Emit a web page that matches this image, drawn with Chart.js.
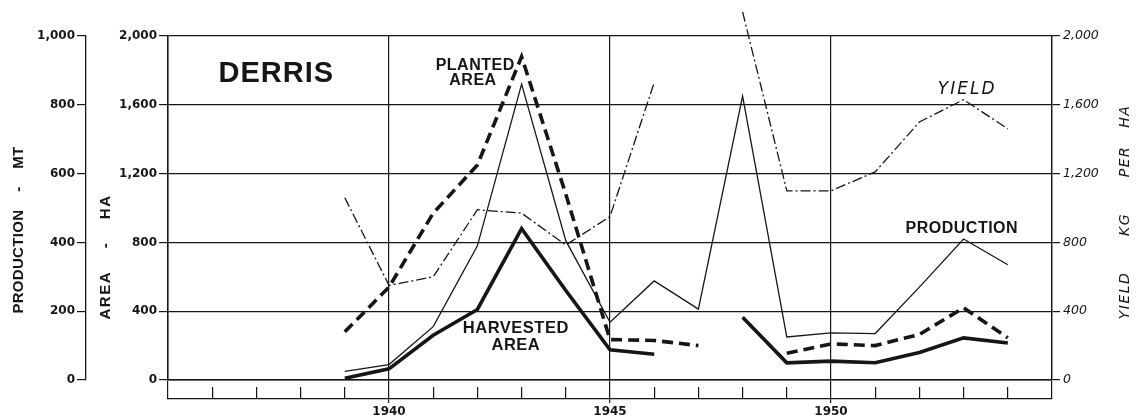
<!DOCTYPE html>
<html>
<head>
<meta charset="utf-8">
<script src="https://cdn.jsdelivr.net/npm/chart.js@4.4.1/dist/chart.umd.min.js"></script>
<style>
  html, body { margin: 0; padding: 0; background: #ffffff; }
  #wrap { width: 1138px; height: 419px; }
</style>
</head>
<body>
<div id="wrap"><canvas id="c" width="1138" height="419"></canvas></div>
<script>
// ---- data ----
const years = [1939, 1940, 1941, 1942, 1943, 1944, 1945, 1946, 1947, 1948, 1949, 1950, 1951, 1952, 1953, 1954];
// Production, metric tons (left outer axis)
const production = [25, 45, 155, 390, 860, 405, 168, 288, 206, 825, 125, 137, 135, 270, 410, 335];
// Planted area, hectares
const plantedArea = [280, 540, 970, 1250, 1880, 1080, 235, 230, 200, null, 155, 210, 200, 265, 420, 245];
// Harvested area, hectares
const harvestedArea = [10, 65, 260, 410, 880, 520, 175, 150, null, 365, 100, 110, 100, 160, 245, 215];
// Yield, kg per hectare (right axis)
const yieldKg = [1060, 550, 600, 990, 970, 785, 950, 1730, null, 2140, 1100, 1100, 1210, 1500, 1630, 1460];

const productionTicks = [0, 200, 400, 600, 800, 1000];
const areaTicks = [0, 400, 800, 1200, 1600, 2000];
const yieldTicks = [0, 400, 800, 1200, 1600, 2000];
const labelledYears = [1940, 1945, 1950];
const frameYears = [1935, 1940, 1945, 1950, 1955];

const pts = arr => years.map((y, i) => ({ x: y, y: arr[i] }));
const fmt = v => Number(v).toLocaleString('en-US');
const INK = '#161616';

const notes = [
  { text: 'DERRIS', x: 1937.45, y: 1779, font: 'bold 29px "Liberation Sans"', spacing: '1px' },
  { text: 'PLANTED', x: 1941.95, y: 1826, font: 'bold 16px "Liberation Sans"', spacing: '0.5px' },
  { text: 'AREA', x: 1941.9, y: 1738, font: 'bold 16px "Liberation Sans"', spacing: '0.5px' },
  { text: 'HARVESTED', x: 1942.87, y: 297, font: 'bold 16.5px "Liberation Sans"', spacing: '0.5px' },
  { text: 'AREA', x: 1942.87, y: 198, font: 'bold 16.5px "Liberation Sans"', spacing: '0.5px' },
  { text: 'PRODUCTION', x: 1952.96, y: 878, font: 'bold 16px "Liberation Sans"', spacing: '0.5px' },
  { text: 'YIELD', x: 1953.08, y: 1686, font: 'oblique 17px "DejaVu Sans"', spacing: '2px' }
];

const textPlugin = {
  id: 'derrisTexts',
  afterDraw(chart) {
    const { ctx, scales } = chart;
    const xs = scales.x, ya = scales.y, yp = scales.yp, yy = scales.yy;
    ctx.save();
    ctx.fillStyle = INK;
    ctx.textAlign = 'center';
    ctx.textBaseline = 'middle';
    for (const n of notes) {
      ctx.font = n.font;
      ctx.letterSpacing = n.spacing || '0px';
      ctx.fillText(n.text, xs.getPixelForValue(n.x), ya.getPixelForValue(n.y));
    }
    const mid = (ya.top + ya.bottom) / 2;
    const rot = (text, x, y, font, spacing) => {
      ctx.save();
      ctx.translate(x, y);
      ctx.rotate(-Math.PI / 2);
      ctx.font = font;
      ctx.letterSpacing = spacing;
      ctx.fillText(text, 0, 0);
      ctx.restore();
    };
    rot('PRODUCTION    -    MT', yp.left + 19, mid + 22, 'bold 15px "Liberation Sans"', '0.3px');
    rot('AREA    -    HA', ya.left + 20, mid + 49, 'bold 15px "Liberation Sans"', '1.5px');
    rot('YIELD      KG      PER   HA', yy.right - 13, mid + 4, 'oblique 14px "DejaVu Sans"', '1.5px');
    ctx.restore();
  }
};

const leftFont = { family: 'DejaVu Sans', size: 12, weight: 'bold' };

new Chart(document.getElementById('c'), {
  type: 'line',
  data: {
    datasets: [
      { label: 'Production', data: pts(production), yAxisID: 'yp', borderColor: INK, borderWidth: 1.3, pointRadius: 0, tension: 0 },
      { label: 'Planted area', data: pts(plantedArea), yAxisID: 'y', borderColor: INK, borderWidth: 3.6, borderDash: [11, 6], pointRadius: 0, tension: 0 },
      { label: 'Harvested area', data: pts(harvestedArea), yAxisID: 'y', borderColor: INK, borderWidth: 3.6, pointRadius: 0, tension: 0 },
      { label: 'Yield', data: pts(yieldKg), yAxisID: 'yy', borderColor: INK, borderWidth: 1.3, borderDash: [10, 3, 2, 3], pointRadius: 0, tension: 0, clip: false }
    ]
  },
  options: {
    responsive: false,
    devicePixelRatio: 1,
    animation: false,
    layout: { padding: { top: 36, left: 0, right: 0, bottom: 0 } },
    plugins: { legend: { display: false }, tooltip: { enabled: false } },
    scales: {
      x: {
        type: 'linear', position: 'bottom', weight: 0, min: 1935, max: 1955,
        ticks: { display: false, stepSize: 1, autoSkip: false },
        grid: {
          drawOnChartArea: true, tickLength: 7, lineWidth: 1.2,
          color: c => frameYears.includes(c.tick.value) ? INK : 'rgba(0,0,0,0)'
        },
        border: { display: true, color: INK, width: 1.5 },
        afterFit: s => { s.height = 7; }
      },
      x2: {
        type: 'linear', position: 'bottom', weight: 1, min: 1935, max: 1955,
        ticks: { display: false, stepSize: 1, autoSkip: false },
        grid: { drawOnChartArea: false, tickLength: 12, lineWidth: 1.2, color: INK },
        border: { display: false },
        afterFit: s => { s.height = 12; }
      },
      x3: {
        type: 'linear', position: 'bottom', weight: 2, min: 1935, max: 1955,
        ticks: {
          stepSize: 1, autoSkip: false, maxRotation: 0, padding: 2, color: INK,
          font: leftFont,
          callback: v => labelledYears.includes(v) ? String(v) : ''
        },
        grid: {
          drawOnChartArea: false, tickLength: 4, lineWidth: 1.2,
          color: c => labelledYears.includes(c.tick.value) ? INK : 'rgba(0,0,0,0)'
        },
        border: { display: true, color: INK, width: 1.2 },
        afterFit: s => { s.height = 20; }
      },
      y: {
        type: 'linear', position: 'left', weight: 0, min: 0, max: 2000,
        afterBuildTicks: s => { s.ticks = areaTicks.map(v => ({ value: v })); },
        ticks: { color: INK, font: leftFont, padding: 2, callback: fmt },
        grid: { drawOnChartArea: true, tickLength: 9, lineWidth: 1.2, color: INK },
        border: { display: true, color: INK, width: 1.5 },
        afterFit: s => { s.width = 82; }
      },
      yp: {
        type: 'linear', position: 'left', weight: 1, min: 0, max: 1000,
        afterBuildTicks: s => { s.ticks = productionTicks.map(v => ({ value: v })); },
        ticks: { color: INK, font: leftFont, padding: 2, callback: fmt },
        grid: { drawOnChartArea: false, tickLength: 9, lineWidth: 1.2, color: INK },
        border: { display: true, color: INK, width: 1.3 },
        afterFit: s => { s.width = 86; }
      },
      yy: {
        type: 'linear', position: 'right', min: 0, max: 2000,
        afterBuildTicks: s => { s.ticks = yieldTicks.map(v => ({ value: v })); },
        ticks: { color: INK, font: { family: 'DejaVu Sans', size: 12.5, style: 'oblique' }, padding: 3, callback: fmt },
        grid: { drawOnChartArea: false, tickLength: 8, lineWidth: 1.2, color: INK },
        border: { display: true, color: INK, width: 1.3 },
        afterFit: s => { s.width = 86; }
      }
    }
  },
  plugins: [textPlugin]
});
</script>
</body>
</html>
